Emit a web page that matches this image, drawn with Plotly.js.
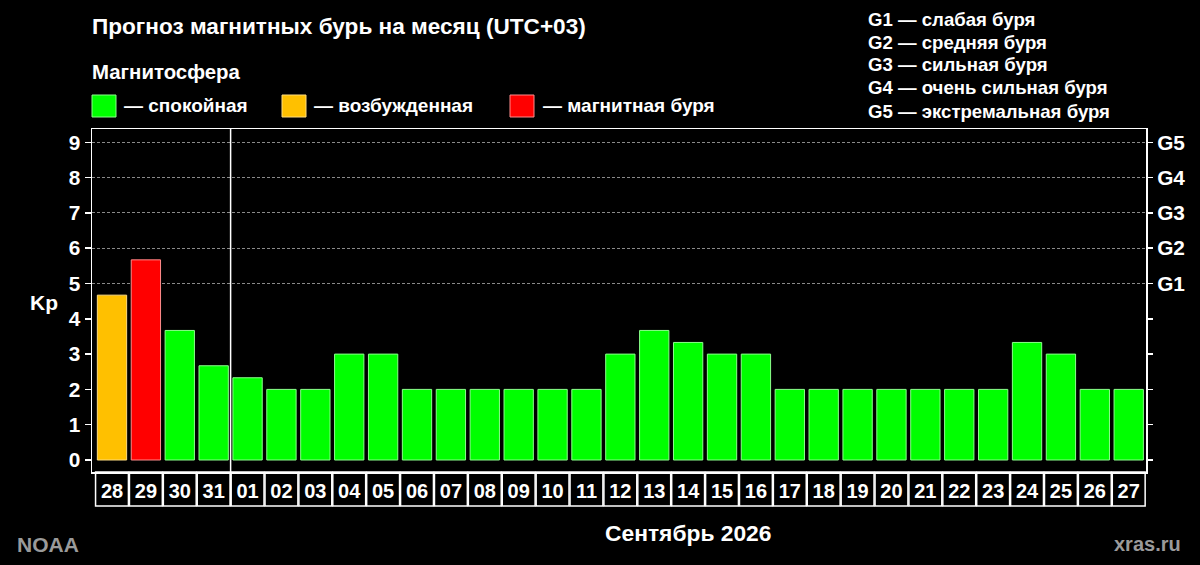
<!DOCTYPE html>
<html><head><meta charset="utf-8">
<script src="https://cdn.plot.ly/plotly-3.0.1.min.js"></script>
<style>html,body{margin:0;padding:0;background:#000;}#chart{width:1200px;height:565px;}</style>
</head><body><div id="chart"></div>
<script>
// ---- data ----
const days = ['28','29','30','31','01','02','03','04','05','06','07','08','09','10','11','12','13','14','15','16','17','18','19','20','21','22','23','24','25','26','27'];
const kp = [4.67,5.67,3.67,2.67,2.33,2,2,3,3,2,2,2,2,2,2,3,3.67,3.33,3,3,2,2,2,2,2,2,2,3.33,3,2,2];
const yTicks = [0,1,2,3,4,5,6,7,8,9];
const gLevels = ['G1','G2','G3','G4','G5'];          // at Kp 5..9
const gKp = [5,6,7,8,9];
const gDescriptions = ['слабая буря','средняя буря','сильная буря','очень сильная буря','экстремальная буря'];
const stateLabels = ['спокойная','возбужденная','магнитная буря'];
const stateColors = ['#00FF00','#FFC000','#FF0000'];
const stateLines = ['#8CFF8C','#FFDD80','#FF8C8C'];
const titleText = 'Прогноз магнитных бурь на месяц (UTC+03)';
const subTitle = 'Магнитосфера';
const monthLabel = 'Сентябрь 2026';
const firstMonthDay = '01';

// ---- helpers ----
const FONT = 'Liberation Sans, Arial, sans-serif';
const L = 92, R = 1146, T = 129, B = 472;
const px2x = p => (p - L) / (R - L);
const py2y = p => (B - p) / (B - T);
const stateOf = v => v >= 5 ? 2 : (v >= 4 ? 1 : 0);
const barColors = kp.map(v => stateColors[stateOf(v)]);
const barLines = kp.map(v => stateLines[stateOf(v)]);

const traces = [
  {type:'bar', x:days, y:kp, width:0.865,
   marker:{color:barColors, line:{color:barLines, width:1}},
   hoverinfo:'x+y', showlegend:false},
  // empty helpers so the right-hand G axis and the dashed G-level grid are drawn
  {type:'scatter', x:[], y:[], yaxis:'y2', hoverinfo:'skip', showlegend:false},
  {type:'scatter', x:[], y:[], yaxis:'y3', hoverinfo:'skip', showlegend:false}
];

const shapes = [];
const boxBottom = py2y(506);
days.forEach((d, i) => {
  shapes.push({type:'rect', xref:'x', yref:'paper', x0:i-0.485, x1:i+0.485, y0:boxBottom, y1:0,
    line:{color:'#FFFFFF', width:1.5}, fillcolor:'rgba(0,0,0,0)'});
});
const sepIdx = days.indexOf(firstMonthDay) - 0.5;
shapes.push({type:'line', xref:'x', yref:'paper', x0:sepIdx, x1:sepIdx, y0:boxBottom, y1:1,
  line:{color:'#FFFFFF', width:1.5}});

const legendSq = [92, 282, 510];
const legendTx = [124, 314, 543];
stateLabels.forEach((s, i) => {
  shapes.push({type:'rect', xref:'paper', yref:'paper', x0:px2x(legendSq[i]), x1:px2x(legendSq[i]+24),
    y0:py2y(117), y1:py2y(95), fillcolor:stateColors[i], line:{color:stateLines[i], width:1}});
});

const ann = [];
ann.push({text:'<b>'+titleText+'</b>', xref:'paper', yref:'paper', x:px2x(90), y:py2y(27),
  xanchor:'left', yanchor:'middle', showarrow:false, font:{family:FONT, size:22.6, color:'#FFFFFF'}});
ann.push({text:'<b>'+subTitle+'</b>', xref:'paper', yref:'paper', x:px2x(90), y:py2y(72),
  xanchor:'left', yanchor:'middle', showarrow:false, font:{family:FONT, size:20.4, color:'#FFFFFF'}});
stateLabels.forEach((s, i) => {
  ann.push({text:'<b>— '+s+'</b>', xref:'paper', yref:'paper', x:px2x(legendTx[i]-2), y:py2y(105),
    xanchor:'left', yanchor:'middle', showarrow:false, font:{family:FONT, size:19, color:'#FFFFFF'}});
});
gLevels.forEach((g, i) => {
  ann.push({text:'<b>'+g+' — '+gDescriptions[i]+'</b>', xref:'paper', yref:'paper', x:px2x(866), y:py2y(19+i*23),
    xanchor:'left', yanchor:'middle', showarrow:false, font:{family:FONT, size:18.6, color:'#FFFFFF'}});
});
ann.push({text:'<b>Kp</b>', xref:'paper', yref:'paper', x:px2x(44), y:py2y(302),
  xanchor:'center', yanchor:'middle', showarrow:false, font:{family:FONT, size:21, color:'#FFFFFF'}});
const firstI = days.indexOf(firstMonthDay), lastI = days.length - 1;
ann.push({text:'<b>'+monthLabel+'</b>', xref:'x', yref:'paper', x:(firstI+lastI)/2, y:py2y(533),
  xanchor:'center', yanchor:'middle', showarrow:false, font:{family:FONT, size:22.8, color:'#FFFFFF'}});
ann.push({text:'<b>NOAA</b>', xref:'paper', yref:'paper', x:px2x(15), y:py2y(544),
  xanchor:'left', yanchor:'middle', showarrow:false, font:{family:FONT, size:21, color:'#9A9A9A'}});
ann.push({text:'<b>xras.ru</b>', xref:'paper', yref:'paper', x:px2x(1183), y:py2y(544),
  xanchor:'right', yanchor:'middle', showarrow:false, font:{family:FONT, size:20, color:'#9A9A9A'}});

const yRange = [-0.34, 9.377];
const xTickFont = {family:FONT, size:20, color:'#FFFFFF', weight:700};
const yTickFont = {family:FONT, size:20.8, color:'#FFFFFF', weight:700};
const layout = {
  width:1200, height:565,
  paper_bgcolor:'#000000', plot_bgcolor:'#000000',
  margin:{l:L, r:1200-R, t:T, b:565-B},
  showlegend:false, bargap:0,
  xaxis:{type:'category', range:[-0.59, 30.51], showline:true, linecolor:'#FFFFFF', linewidth:1.5, mirror:true,
    ticks:'', showgrid:false, zeroline:false, tickfont:xTickFont, tickangle:0, fixedrange:true},
  yaxis:{range:yRange, tickvals:yTicks, ticktext:yTicks.map(String), ticks:'outside', ticklen:6, tickwidth:1.5,
    tickcolor:'#FFFFFF', showline:true, linecolor:'#FFFFFF', linewidth:1.5, mirror:true, showgrid:false,
    zeroline:false, tickfont:yTickFont, fixedrange:true},
  yaxis2:{overlaying:'y', side:'right', anchor:'x', range:yRange, tickvals:yTicks,
    ticktext:yTicks.map(v => { const k = gKp.indexOf(v); return k >= 0 ? gLevels[k] : ''; }),
    ticks:'outside', ticklen:6, tickwidth:1.5, tickcolor:'#FFFFFF', showline:false, showgrid:false,
    zeroline:false, tickfont:yTickFont, fixedrange:true},
  yaxis3:{overlaying:'y', side:'left', anchor:'x', range:yRange, tickvals:gKp, showticklabels:false, ticks:'',
    showline:false, showgrid:true, gridcolor:'#8A8A8A', griddash:'3px,2px', gridwidth:1, zeroline:false, fixedrange:true},
  shapes:shapes, annotations:ann
};
Plotly.newPlot('chart', traces, layout, {displayModeBar:false, staticPlot:true});
</script>
</body></html>
